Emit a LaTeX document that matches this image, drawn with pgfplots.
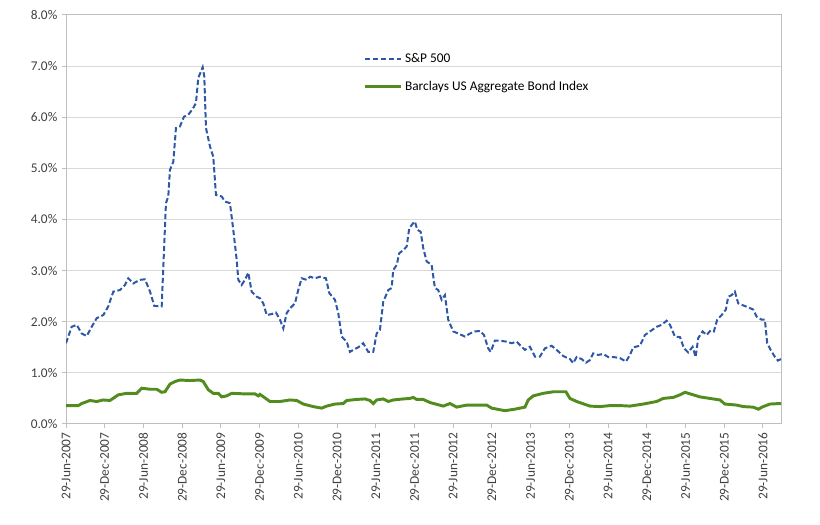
\documentclass[border=0pt]{standalone}
\usepackage{fontspec}
\setmainfont{Carlito}
\usepackage{pgfplots}
\pgfplotsset{compat=1.18}
\definecolor{spblue}{RGB}{46,88,166}
\definecolor{bondgreen}{RGB}{82,140,30}
\definecolor{gridgray}{RGB}{217,217,217}
\definecolor{axisgray}{RGB}{191,191,191}
\definecolor{labelgray}{RGB}{64,64,64}
\begin{document}
\begin{tikzpicture}
\begin{axis}[
  scale only axis,
  width=536.25pt, height=306.75pt,
  xmin=0, xmax=110.8, ymin=0, ymax=8,
  xtick={0,6,...,108},
  xticklabels={29-Jun-2007,29-Dec-2007,29-Jun-2008,29-Dec-2008,29-Jun-2009,29-Dec-2009,29-Jun-2010,29-Dec-2010,29-Jun-2011,29-Dec-2011,29-Jun-2012,29-Dec-2012,29-Jun-2013,29-Dec-2013,29-Jun-2014,29-Dec-2014,29-Jun-2015,29-Dec-2015,29-Jun-2016},
  x tick label style={rotate=90, anchor=east, font=\fontsize{10}{11}\selectfont, text=labelgray},
  ytick={0,1,...,8},
  yticklabel={\pgfmathprintnumber[fixed,fixed zerofill,precision=1]{\tick}\%},
  /pgf/number format/assume math mode=true,
  y tick label style={font=\fontsize{10}{11}\selectfont, text=labelgray},
  ymajorgrids, major grid style={gridgray, line width=0.75pt},
  axis line style={axisgray, line width=0.75pt},
  tick style={axisgray, line width=0.75pt},
  tick align=outside, major tick length=3pt,
  xtick pos=bottom, ytick pos=left,
  legend style={at={(0.41,0.92)}, anchor=north west, draw=none, fill=none,
    font=\fontsize{10}{11}\selectfont, row sep=8.5pt, text=black},
  legend cell align=left,
  legend image code/.code={\draw[#1] (0pt,0pt) -- (27pt,0pt);},
]
\addplot[spblue, line width=1.5pt, dash pattern=on 4pt off 2pt] coordinates {
(0,1.58) (0.88,1.90) (1.66,1.94) (2.43,1.77) (3.21,1.72) (3.98,1.90) (4.76,2.07)
(5.78,2.13) (6.55,2.30) (7.33,2.59) (8.37,2.62) (9.14,2.72) (9.65,2.85) (10.43,2.75)
(11.47,2.82) (12.24,2.83) (13.02,2.59) (13.68,2.31) (14.56,2.30) (14.83,2.30)
(15.49,4.32) (15.85,4.45) (16.11,4.97) (16.63,5.13) (17.04,5.79) (17.66,5.82)
(18.28,6.01) (18.95,6.05) (19.63,6.16) (20.14,6.28) (20.50,6.77) (21.18,6.98)
(21.43,6.80) (21.69,5.79) (22.31,5.43) (22.82,5.23) (23.24,4.48) (24.12,4.45)
(24.64,4.35) (25.41,4.32) (25.92,3.80) (26.45,3.21) (26.70,2.82) (27.22,2.72)
(27.73,2.82) (28.25,2.96) (28.77,2.59) (29.55,2.49) (30.06,2.46) (30.57,2.36)
(31.10,2.13) (31.87,2.15) (32.54,2.18) (33.16,2.04) (33.67,1.87) (34.20,2.17)
(34.71,2.26) (35.48,2.36) (35.99,2.62) (36.52,2.85) (37.29,2.82) (37.81,2.88)
(38.58,2.85) (39.36,2.88) (40.28,2.85) (40.80,2.56) (41.68,2.43) (42.19,2.17)
(42.72,1.71) (43.49,1.61) (44.00,1.41) (44.52,1.45) (45.29,1.50) (46.06,1.58)
(46.84,1.41) (47.61,1.41) (48.14,1.77) (48.65,1.84) (49.16,2.39) (49.94,2.62)
(50.46,2.66) (50.71,3.01) (51.24,3.11) (51.64,3.34) (52.26,3.40) (52.79,3.47)
(53.19,3.83) (53.81,3.93) (54.07,3.96) (54.43,3.80) (54.96,3.76) (55.36,3.44)
(55.89,3.18) (56.66,3.11) (57.17,2.66) (57.68,2.62) (58.21,2.43) (58.72,2.52)
(59.23,2.04) (60.01,1.81) (60.78,1.77) (61.82,1.71) (62.60,1.77) (63.37,1.81)
(64.15,1.82) (64.77,1.74) (65.43,1.48) (65.80,1.41) (66.47,1.63) (67.24,1.63)
(68.28,1.61) (69.06,1.58) (69.83,1.61) (70.61,1.51) (71.12,1.45) (71.89,1.51)
(72.67,1.32) (73.44,1.32) (74.22,1.48) (75.26,1.53) (76.03,1.45) (77.05,1.33)
(78.09,1.27) (78.60,1.19) (79.13,1.31) (79.90,1.27) (80.57,1.20) (81.19,1.25)
(81.70,1.38) (82.48,1.35) (83.25,1.37) (84.02,1.31) (84.80,1.31) (85.84,1.29)
(86.77,1.22) (87.39,1.35) (87.90,1.50) (88.94,1.53) (89.71,1.74) (90.49,1.81)
(91.53,1.90) (92.30,1.94) (93.07,2.02) (93.59,1.94) (94.36,1.71) (95.14,1.70)
(95.76,1.48) (96.42,1.40) (97.10,1.51) (97.57,1.31) (97.97,1.68) (98.65,1.81)
(99.27,1.74) (99.89,1.83) (100.40,1.81) (100.91,2.04) (101.60,2.13) (102.26,2.24)
(102.62,2.49) (103.14,2.52) (103.65,2.59) (104.17,2.36) (104.94,2.32) (105.72,2.28)
(106.49,2.24) (107.02,2.10) (107.79,2.04) (108.30,2.04) (108.66,1.58) (109.19,1.45)
(109.86,1.31) (110.33,1.24) (110.8,1.27)
};
\addlegendentry{S\&P 500}
\addplot[bondgreen, line width=2.2pt] coordinates {
(0,0.36) (1.91,0.36) (2.43,0.40) (3.72,0.46) (4.76,0.44) (5.78,0.47) (6.82,0.46)
(8.10,0.57) (9.41,0.60) (10.95,0.60) (11.73,0.70) (13.02,0.68) (14.05,0.68)
(14.83,0.62) (15.34,0.63) (16.11,0.78) (16.89,0.83) (17.66,0.86) (19.21,0.85)
(20.76,0.86) (21.27,0.83) (22.05,0.67) (22.82,0.60) (23.60,0.60) (24.12,0.53)
(24.90,0.55) (25.67,0.60) (27.47,0.59) (29.28,0.59) (29.80,0.55) (30.06,0.58)
(31.61,0.44) (33.16,0.44) (34.71,0.47) (35.75,0.46) (36.77,0.39) (38.32,0.34)
(39.62,0.31) (40.39,0.35) (41.68,0.39) (42.97,0.40) (43.49,0.46) (45.04,0.48)
(46.33,0.49) (47.10,0.46) (47.61,0.40) (48.14,0.47) (49.16,0.49) (49.94,0.44)
(50.71,0.47) (52.26,0.49) (53.30,0.50) (53.81,0.52) (54.34,0.48) (55.36,0.48)
(56.40,0.42) (58.46,0.35) (59.50,0.40) (60.54,0.33) (62.09,0.37) (63.63,0.37)
(65.18,0.37) (65.96,0.31) (68.02,0.26) (69.57,0.29) (71.12,0.33) (71.63,0.47)
(72.41,0.55) (73.96,0.60) (75.50,0.63) (77.47,0.63) (78.09,0.50) (79.13,0.44)
(81.19,0.35) (82.74,0.34) (84.29,0.36) (85.84,0.36) (87.39,0.35) (89.45,0.39)
(91.53,0.44) (92.55,0.50) (94.10,0.52) (95.14,0.57) (95.92,0.62) (96.69,0.59)
(98.24,0.53) (99.79,0.50) (101.34,0.47) (102.11,0.39) (103.92,0.37) (104.97,0.34)
(106.49,0.33) (107.27,0.29) (108.04,0.34) (109.08,0.39) (110.63,0.40) (110.8,0.40)
};
\addlegendentry{Barclays US Aggregate Bond Index}
\end{axis}
\path ([shift={(-49.5pt,-75.75pt)}]current axis.south west) rectangle ([shift={(29.25pt,11.25pt)}]current axis.north east);
\end{tikzpicture}
\end{document}
